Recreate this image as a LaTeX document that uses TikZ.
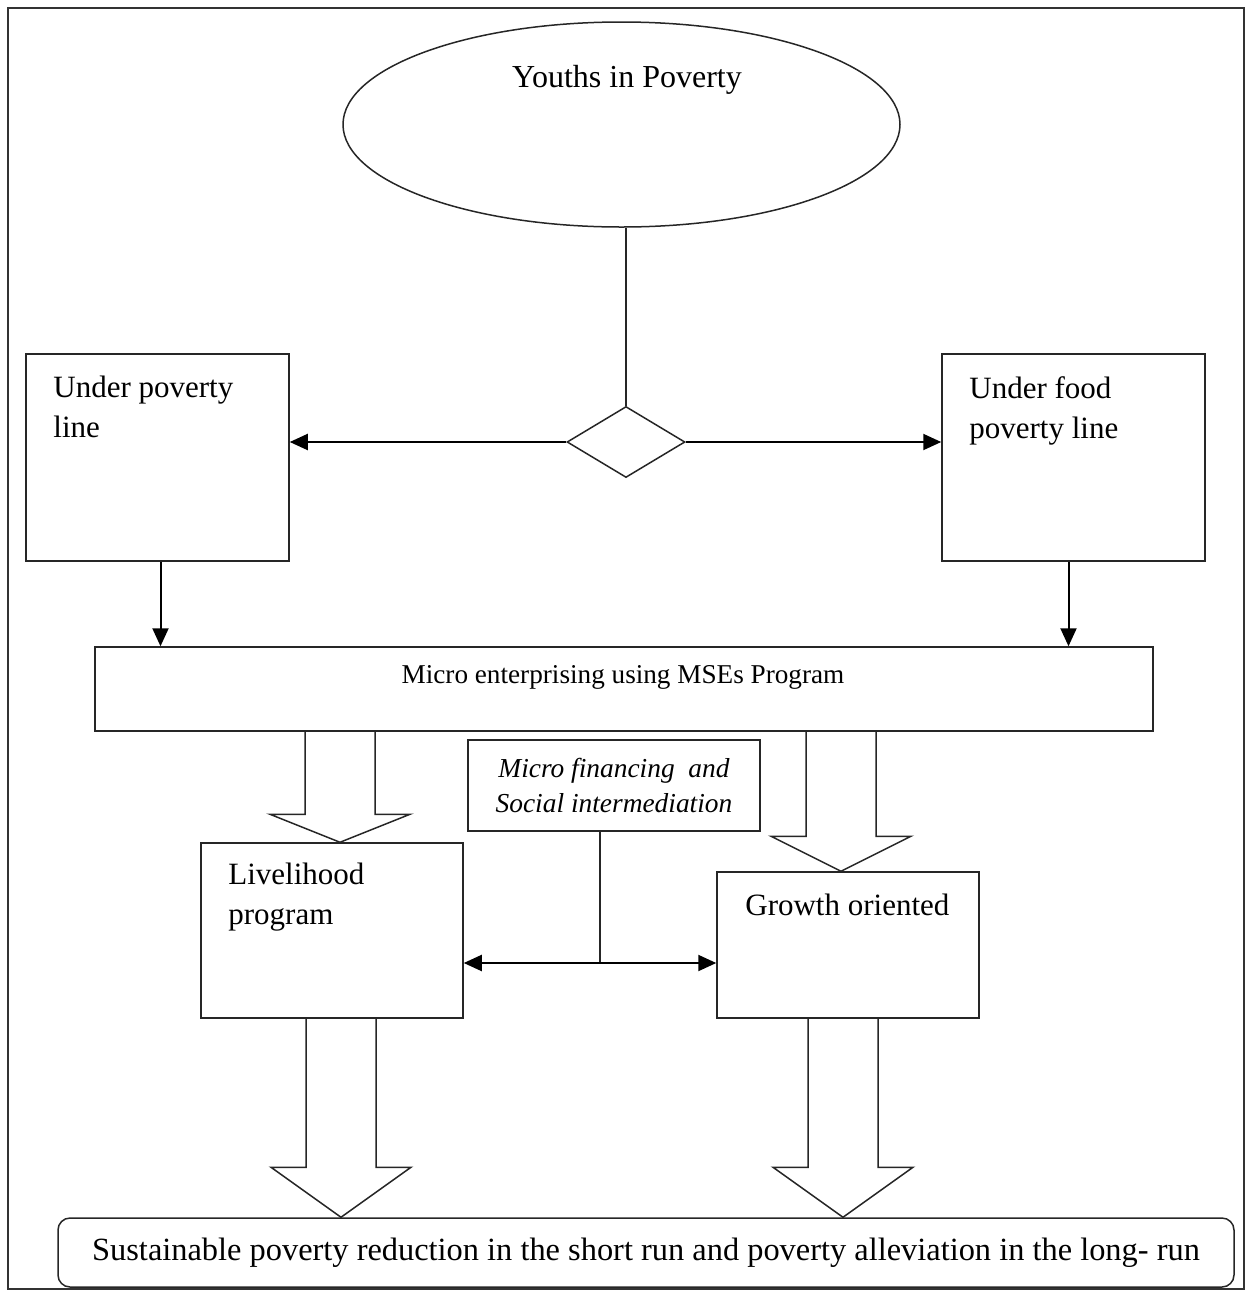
\documentclass[tikz,border=0pt]{standalone}
\usepackage{fontspec}
\setmainfont{Liberation Serif}
\usetikzlibrary{shapes.geometric, arrows.meta, calc}

% hollow block arrow pointing down: #1 = tip, #2 = length, #3 = head height (px)
\newcommand{\hollowdown}[3]{%
  \draw[boxline] (#1) ++(-35,-#2) -- ++(0,#2-#3) -- ++(-35,0) -- (#1)
    -- ++(70,-#3) -- ++(-35,0) -- ++(0,#3-#2);
}

\tikzset{
  boxline/.style={draw=black!85, line width=0.75pt},
  box/.style={boxline, rectangle, inner sep=0pt},
  link/.style={line width=1pt, -{Triangle[length=9pt, width=8pt]}},
  lbl/.style={font=\fontsize{15.5}{20}\selectfont, align=left, inner sep=0pt},
}

\begin{document}
\begin{tikzpicture}[x=0.5pt, y=-0.5pt]
  \useasboundingbox (0,0) rectangle (1247,1291);
  \draw[black!80, line width=0.6pt] (8,8) rectangle (1244,1289);

  % top
  \node[boxline, ellipse, minimum width=278.5pt, minimum height=102.5pt, inner sep=0pt] (youth) at (621.5,124.5) {};
  \node[lbl, font=\fontsize{16}{20}\selectfont] (youthtxt) at (627,80) {Youths in Poverty};
  \node[boxline, diamond, minimum width=59pt, minimum height=35.5pt, aspect=1.66, inner sep=0pt] (split) at (626,442) {};
  \draw[boxline] (youth.south -| split.north) -- (split.north);

  % poverty groups
  \node[box, minimum width=131.5pt, minimum height=103.5pt] (under) at (157.5,457.5) {};
  \node[lbl, anchor=north west] (undertxt) at (53,376) {Under poverty\\line};
  \node[box, minimum width=131.5pt, minimum height=103.5pt] (food) at (1073.5,457.5) {};
  \node[lbl, anchor=north west] (foodtxt) at (969,376) {Under food\\poverty line};
  \draw[link] (split.west) -- (split.west -| under.east);
  \draw[link] (split.east) -- (split.east -| food.west);

  % program
  \node[box, minimum width=529pt, minimum height=42pt] (mse) at (624,689) {};
  \node[lbl, font=\fontsize{13.6}{16}\selectfont] (msetxt) at (623,677) {Micro enterprising using MSEs Program};
  \coordinate (ua) at ($(under.south)+(3,0)$);
  \coordinate (fa) at ($(food.south)+(-5,0)$);
  \draw[link] (ua) -- (ua |- mse.north);
  \draw[link] (fa) -- (fa |- mse.north);

  \node[box, minimum width=146pt, minimum height=45.5pt, align=center,
        font=\fontsize{13.7}{17.5}\selectfont\itshape] (fin) at (614,785.5)
        {Micro financing \ and\\Social intermediation};

  % outcomes
  \node[box, minimum width=131pt, minimum height=87.5pt] (liv) at (332,930.5) {};
  \node[lbl, anchor=north west] (livtxt) at (228,863) {Livelihood\\program};
  \node[box, minimum width=131pt, minimum height=73pt] (grow) at (848,945) {};
  \node[lbl, anchor=north west] (growtxt) at (745,894) {Growth oriented};

  \coordinate (hub) at (600,963);
  \draw[boxline] (fin.south -| hub) -- (hub);
  \draw[link] (hub) -- (hub -| liv.east);
  \draw[link] (hub) -- (hub -| grow.west);

  \node[box, rounded corners=6pt, minimum width=588pt, minimum height=34.5pt,
        font=\fontsize{16.2}{19}\selectfont] (goal) at (646,1252.5)
        {Sustainable poverty reduction in the short run and poverty alleviation in the long- run};

  \coordinate (t1) at ($(liv.north)+(8,0)$);
  \coordinate (t2) at ($(grow.north)+(-7,0)$);
  \coordinate (t3) at ($(goal.north)+(-305,0)$);
  \coordinate (t4) at ($(goal.north)+(197,0)$);
  \hollowdown{t1}{112}{28}
  \hollowdown{t2}{141}{35}
  \hollowdown{t3}{200}{50}
  \hollowdown{t4}{200}{50}
\end{tikzpicture}
\end{document}
